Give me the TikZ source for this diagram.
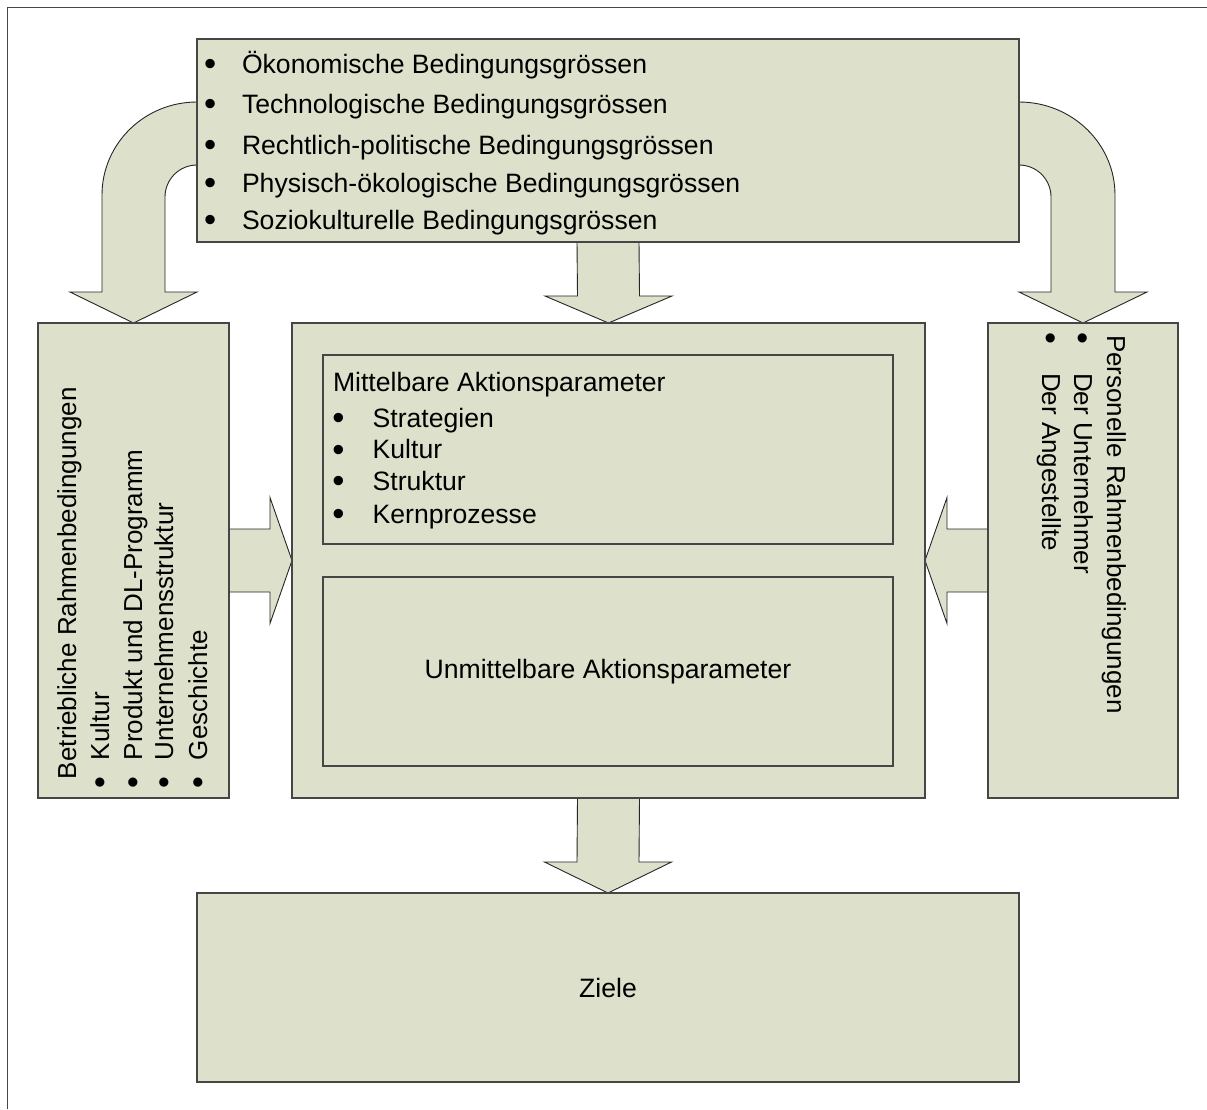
\documentclass[tikz,border=0pt]{standalone}
\usepackage{graphicx}
\usepackage{fontspec}
\setmainfont{Liberation Sans}
\usetikzlibrary{calc,backgrounds}
\definecolor{boxfill}{RGB}{221,225,203}
\definecolor{edge}{RGB}{70,70,70}
% a round list bullet, a little heavier than the plain glyph
\newcommand\listdot{\smash{\raisebox{-2.6pt}{\scalebox{1.3}{•}}}}
\begin{document}
\begin{tikzpicture}[x=1pt,y=-1pt,
  panel/.style={draw=edge, fill=boxfill, line width=1.2pt, inner sep=0pt, outer sep=0pt,
    font=\fontsize{26.6pt}{32pt}\selectfont},
  blockarrow/.style={draw=black!85, fill=boxfill, line width=0.9pt, line join=miter},
  txt/.style={inner sep=0pt, outer sep=0pt, text=black,
    font=\fontsize{26.6pt}{32pt}\selectfont},
  line/.style={txt, anchor=base west},
  vline/.style={line, font=\fontsize{26pt}{32pt}\selectfont},
]
\useasboundingbox (0,0) rectangle (1207,1109);

% boxes
\node[panel, anchor=north west, minimum width=822pt, minimum height=203pt] (env) at (197,39) {};
\node[panel, anchor=north west, minimum width=191pt, minimum height=475pt] (leftbox) at (38,323) {};
\node[panel, anchor=north west, minimum width=633pt, minimum height=475pt] (core) at (292,323) {};
\node[panel, anchor=north west, minimum width=190pt, minimum height=475pt] (rightbox) at (988,323) {};
\node[panel, anchor=north west, minimum width=570pt, minimum height=189pt] (mittel) at (323,355) {};
\node[panel, anchor=north west, minimum width=570pt, minimum height=189pt] (unmittel) at (323,577) {};
\node[txt] (unmittellabel) at (unmittel.center) {Unmittelbare Aktionsparameter};
\node[panel, anchor=north west, minimum width=822pt, minimum height=189pt] (ziele) at (197,893) {};
\node[txt] (zielelabel) at (ziele.center) {Ziele};

% environmental factors
\foreach \t/\y [count=\i] in {%
  Ökonomische Bedingungsgrössen/73,
  Technologische Bedingungsgrössen/113,
  Rechtlich-politische Bedingungsgrössen/154,
  Physisch-ökologische Bedingungsgrössen/192,
  Soziokulturelle Bedingungsgrössen/229}
  \node[line] (env\i) at (204,\y) {\makebox[38pt][l]{\listdot}\t};

% indirect action parameters
\node[line] (mittelhead) at (333,391) {Mittelbare Aktionsparameter};
\foreach \t/\y [count=\i] in {Strategien/427, Kultur/458.5, Struktur/490, Kernprozesse/523}
  \node[line] (mittel\i) at (332.3,\y) {\makebox[40.4pt][l]{\listdot}\t};

% operational framework (vertical, reading upwards)
\node[vline, rotate=90] (lefthead) at (76,779) {Betriebliche Rahmenbedingungen};
\foreach \t/\x [count=\i] in {Kultur/109, Produkt und DL-Programm/142,
  Unternehmensstruktur/173, Geschichte/207}
  \node[vline, rotate=90] (left\i) at (\x,788) {\makebox[28pt][l]{\listdot}\t};

% personnel framework (vertical, reading downwards)
\node[vline, rotate=-90] (righthead) at (1107,335) {Personelle Rahmenbedingungen};
\foreach \t/\x [count=\i] in {Der Unternehmer/1074, Der Angestellte/1042}
  \node[vline, rotate=-90] (right\i) at (\x,332.3) {\makebox[40.7pt][l]{\listdot}\t};

\begin{scope}[on background layer]
  % frame
  \draw[edge, line width=1pt] (7,1109) -- (7,7) -- (1207,7);

  % curved arrow to the left box
  \path[blockarrow] (197,102) .. controls (144.5,102) and (102,143.6) .. (102,195)
    -- (102,292) -- (70,292) -- (leftbox.north) -- (197,292) -- (165,292)
    -- (165,197) .. controls (165,179.3) and (179.3,165) .. (197,165);

  % curved arrow to the right box
  \path[blockarrow] (1019,102) .. controls (1072,102) and (1115,143.6) .. (1115,195)
    -- (1115,292) -- (1147,292) -- (rightbox.north) -- (1019,292) -- (1051,292)
    -- (1051,197) .. controls (1051,179.3) and (1036.7,165) .. (1019,165);

  % environment -> core
  \path[blockarrow] ($(env.south)+(-31,0)$) -- ($(core.north)+(-31,-27)$)
    -- ($(core.north)+(-63.5,-27)$) -- (core.north) -- ($(core.north)+(63.5,-27)$)
    -- ($(core.north)+(31,-27)$) -- ($(env.south)+(31,0)$);

  % core -> goals
  \path[blockarrow] ($(core.south)+(-31,0)$) -- ($(ziele.north)+(-31,-31)$)
    -- ($(ziele.north)+(-63.5,-31)$) -- (ziele.north) -- ($(ziele.north)+(63.5,-31)$)
    -- ($(ziele.north)+(31,-31)$) -- ($(core.south)+(31,0)$);

  % left box -> core
  \path[blockarrow] ($(leftbox.east)+(0,-31.5)$) -- ($(core.west)+(-22,-31.5)$)
    -- ($(core.west)+(-22,-63)$) -- (core.west) -- ($(core.west)+(-22,63)$)
    -- ($(core.west)+(-22,31.5)$) -- ($(leftbox.east)+(0,31.5)$);

  % right box -> core
  \path[blockarrow] ($(rightbox.west)+(0,-31.5)$) -- ($(core.east)+(22,-31.5)$)
    -- ($(core.east)+(22,-63)$) -- (core.east) -- ($(core.east)+(22,63)$)
    -- ($(core.east)+(22,31.5)$) -- ($(rightbox.west)+(0,31.5)$);
\end{scope}
\end{tikzpicture}
\end{document}
